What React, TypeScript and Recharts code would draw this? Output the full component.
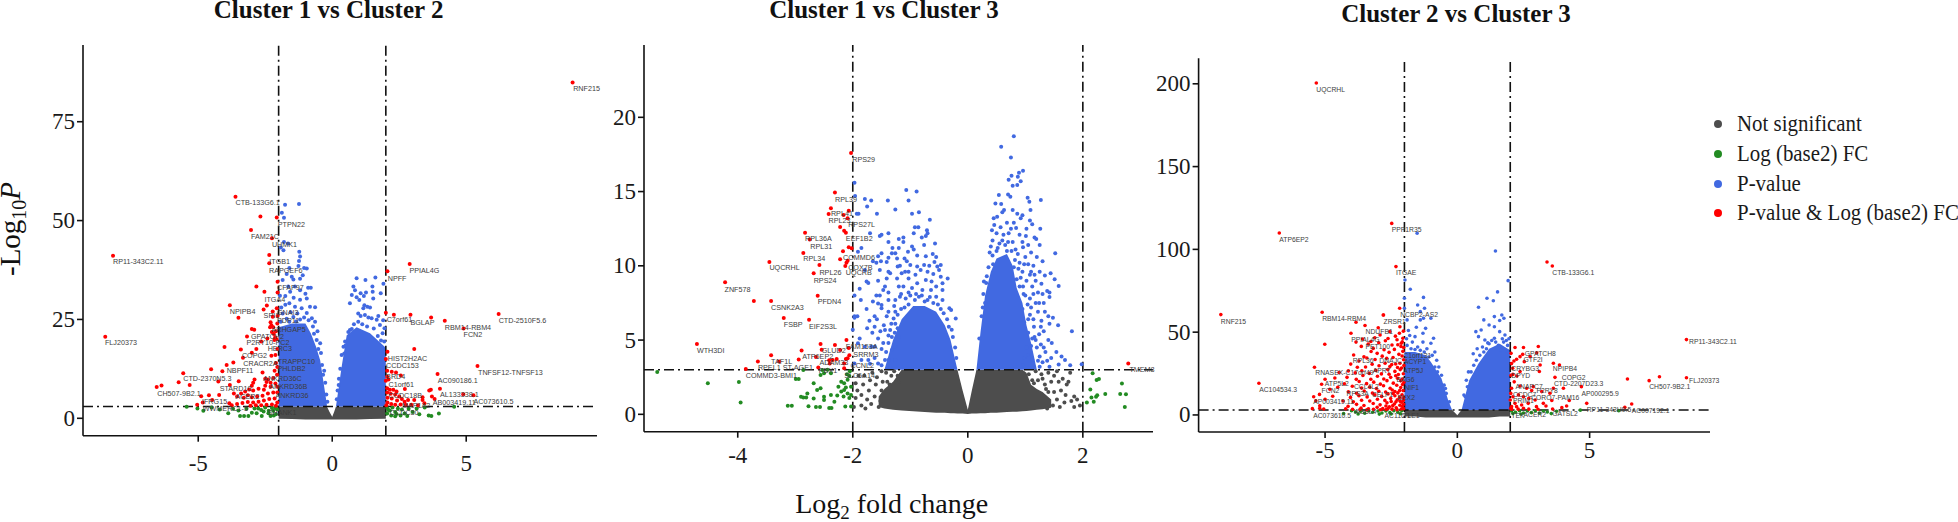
import { ComposedChart, Area, Scatter, XAxis, YAxis, ReferenceLine, Legend } from "recharts"

type Row = [number, number]
type GeneRow = [string, number, number]

// hand. the solid mass of each volcano is kept as an outline (x, top)
// because the thousands of overlapping dots there cant be read one by one
const C1_ENV_X = [-2, -1.5, -1, -0.8, -0.6, -0.45, -0.3, -0.2, -0.1, 0, 0.07, 0.14, 0.35, 0.54, 0.91, 1.41, 1.97, 2]
const C1_ENV_LOW = [-0.1, -0.2, -0.3, -0.3, -0.3, -0.3, -0.3, -0.3, -0.3, -0.3, -0.3, -0.3, -0.3, -0.3, -0.3, -0.2, -0.1, -0.1]
const C1_ENV_GREY = [3, 3, 3, 3, 3, 3, 3, 3, 1.6, 0.4, 1.6, 3, 3, 3, 3, 3, 3, 3]
const C1_ENV_BLUE = [23, 24, 24, 21.5, 18, 14.7, 8, 3.5, null, null, null, 3, 13, 21, 23, 21.5, 18, 17]

const C1_BLUE: Row[] = [[-1.76,54],[-1.24,54.2],[-1.88,52],[-1.8,50.7],[-1.82,42.5],[-1.92,43.2],[-1.8,44.6],[-1.65,44.2],[-1.23,42.1],[-1.2,40.9],[-1.24,39.8],[-1.6,38],[-1.26,38.5],[-0.95,37.9],[-1.05,38],[-1.45,35.1],[-1.1,36.2],[-1.2,35.3],[-1.51,35.8],[-1.85,35],[-1.64,33.3],[-1.39,33.3],[-1.2,32.4],[-1.57,32],[-1.75,30.9],[-1.44,30.5],[-1.2,30],[-0.95,30.3],[-1.6,29.1],[-1.75,28.7],[-1.39,28.2],[-1.14,27.8],[-0.83,28.2],[-0.64,28.1],[-0.95,26.6],[-0.76,25.3],[-0.64,24.4],[-1.3,26.5],[-1.55,26.8],[-1.85,26.5],[-0.9,33],[-0.8,33],[-1,31.5],[-1.7,36.5],[-0.55,22],[-0.45,19],[-0.42,16.5],[-0.3,12],[-0.26,9],[-1.95,31],[-1.9,28],
[-1.7,25.2],[-1.45,25.6],[-1.2,25],[-1.05,25.5],[-0.88,24.8],[-0.72,23.2],[-0.68,21.4],[-0.58,19.8],[-0.52,17.5],[-0.38,13.5],[-0.34,11],[-0.22,6],[-0.18,4.2],[-1.92,24.4],[-1.6,24.4],[-1.35,24.5],
[0.91,35.4],[1.24,35],[1.61,35.6],[1.91,34],[0.79,33.3],[1.5,33.3],[0.85,32.4],[1.06,31.6],[1.26,31.8],[1.51,32],[1.81,31.6],[0.73,31.2],[0.91,30.6],[1.18,30.9],[1.53,30.3],[1.01,29.9],[0.66,29.1],[1.2,28.6],[1.31,28.2],[1.41,28],[1.16,27.8],[0.97,26.5],[1.06,25.9],[1.22,26.1],[1.35,25.5],[1.47,25.3],[1.72,25.9],[1.66,24.9],[0.81,23.8],[0.97,24.4],[0.66,22.3],[1.78,23.6],[1.88,21.5],[0.48,19.4],[0.42,18.1],[1.95,22.8],[1.9,24.8],[0.35,16],[0.25,10],[0.2,7],
[0.73,22.6],[1.12,23.8],[1.3,23.2],[1.55,22.7],[1.7,20.8],[1.82,19.7],[1.94,19.4],[0.45,16.4],[0.3,12.5],[0.24,8.4],[0.17,4.8],[0.6,21.8],[0.5,18.4]]

const C1_RED: Row[] = [[8.97,84.9],[-8.18,41.1],[-8.47,20.6],[-3.61,56],[-2.68,51],[-2.07,50.8],[-3.03,47.6],[-2.25,45.5],[-2.35,41.3],[-2.35,39.2],[2.89,39],[2.06,37.2],[-2.83,33.3],[-2.04,34.5],[-2.53,32],[-2.04,31.8],[-3.82,28.6],[-2.44,28.5],[-2.56,27.5],[-2.22,27],[-2.07,27.8],[-3.5,25.4],[-2.22,25.7],[-2.04,25.9],[2,26.7],[2.3,26.2],[2.92,26.2],[3.69,25.5],[4.2,24.7],[6.21,26.4],[4.9,22.7],[-2.3,24.3],[-2.27,23.5],[-2.2,23],[-2.32,23],[-2.25,21.8],[-2.18,21.3],[-2.1,22],[-2.05,24],[-2.13,20.5],[-2.08,20],[-3,22.6],[-2.91,22.4],[-3.18,20.7],[-2.65,19.4],[-2.42,20.2],[-2.16,19.8],[-4.02,18],[-3.41,17.4],[-2.83,17.5],[-3,16.6],[-3.33,15.3],[-2.27,15.8],[-2.12,16],[-2.05,17.5],[-3.69,14.1],[-3.94,13.5],[-4.52,12.4],[-4.1,11.9],[-3.49,9.4],[-2.6,11.6],[-5.56,11.4],[-5.73,9.1],[-6.37,8.3],[-6.55,7.9],[-5.32,8.4],[-4.25,9.3],[-4.89,5.6],[-4.6,5.8],[-4.48,4.6],[-4.22,5.9],[-3.82,8.4],[-3.67,6.3],[-5.04,3.4],[-4.83,4],[-3.84,3.8],[-2.1,14],[-2.05,13],[-2.15,12],[-2.06,11],[-2.2,10.2],[-2.4,9.8],[-2.5,10],[-2.9,9.8],[-2.95,9],[-3,8.2],[-2.45,9.2],[-2.3,9],[-2.12,8.8],[-2.05,8],[-2.3,8],[-2.5,8.2],[-2.55,7.2],[-2.75,7.5],[-2.95,7],[-3.1,7.3],[-3.25,6.8],[-3.4,6.3],[-3.55,5.5],[-3.3,5.2],[-3.15,5.8],[-3,5.3],[-2.8,5.5],[-2.6,5.7],[-2.4,6.3],[-2.2,6.5],[-2.05,6.5],[-2.15,5],[-2.35,4.9],[-2.55,4.5],[-2.75,4.2],[-2.95,4],[-3.15,4.1],[-3.35,3.9],[-3.55,3.6],[-3.75,3.3],[-2.05,4],[-2.25,3.5],[-2.45,3.4],[-2.65,3.3],[-2.85,3.3],[-3.05,3.2],[-2.1,3.2],
[3.06,17.5],[2.06,16.8],[2,15],[5.42,13.2],[3.93,11.2],[2.05,12],[2.22,11.8],[2.38,11.6],[2.56,10.8],[2.05,10.5],[2.1,9.8],[2,9.5],[4.02,7.5],[3.62,7],[3.68,7.2],[2.71,7.4],[3.37,5.3],[3.37,4.6],[3.72,5.5],[3.82,4.9],[4.89,6.1],[5.27,5.8],[3.44,3.8],[3.06,4.6],[2.83,4.6],[2.05,7.6],[2.15,7.2],[2.28,7.2],[2.4,6.8],[2.05,6.5],[2.18,6.2],[2.35,6],[2.5,5.5],[2.06,5.2],[2.22,5],[2.42,4.5],[2.6,4.9],[2.7,4.2],[2.06,4],[2.2,3.6],[2.35,3.4],[2.55,3.5],[2.75,3.4],[2.95,3.4],[2.02,3.3],[3.2,3.3]]

const C1_GREEN: Row[] = [[-5.43,2.95],[-5.03,2.5],[-4.81,1.9],[-4.5,2.7],[-4.2,2.2],[-3.88,1.3],[-3.7,2.4],[-3.44,0.6],[-3.29,0.6],[-3.13,0.6],[-3.5,2],[-3.2,2.4],[-3,1.4],[-2.82,1.3],[-2.63,0.6],[-2.56,1.7],[-2.38,1.3],[-2.2,1.9],[-2.76,2.5],[-2.5,2.7],[-2.13,2.7],[-2.37,1.9],[-2.1,1],[-2.3,0.6],[-2.9,2.5],[-2.05,2.2],[-2.18,0.7],[-2.1,2.5],[-2.65,2.1],[-2.25,2.6],
[2.05,2.6],[2.15,2],[2.25,2.7],[2.35,1.6],[2.45,2.5],[2.05,1.2],[2.2,0.7],[2.6,2.2],[2.7,1.2],[2.85,2.4],[2.8,0.6],[2.55,0.7],[2.35,0.5],[3.15,2.5],[3.25,1],[3.45,2.7],[3.6,0.7],[3.7,0.6],[3.98,1.2],[4.55,2.9],[2.1,2.1],[2.4,1.1],[3,1.6]]

const C1_LABELS: GeneRow[] = [["RNF215",8.99,83.2],["CTB-133G6.1",-3.61,54.3],["PTPN22",-2.03,48.9],["FAM21C",-3.03,45.8],["UHMK1",-2.25,43.7],["RP11-343C2.11",-8.18,39.4],["ITGB1",-2.35,39.4],["RAPGEF6",-2.36,37.3],["PPIAL4G",2.88,37.3],["NPFF",2.07,35.3],["CFAP97",-2.06,32.9],["ITGA4",-2.53,30],["NPIPB4",-3.82,26.9],["SPI1",-2.56,25.8],["GNAI3",-2.06,26.5],["C7orf61",2.03,24.9],["BGLAP",2.92,24.2],["CTD-2510F5.6",6.21,24.6],["PDP11",-2.06,24.6],["RBM14-RBM4",4.2,22.9],["FCN2",4.9,21.1],["ARHGAP5",-2.27,22.4],["GPATCH2",-3.03,20.6],["FLJ20373",-8.48,18.9],["P2RY10-PC2",-3.2,19],["HERC3",-2.41,17.4],["COPG2",-3.37,15.8],["HIST2H2AC",2.07,15],["TRAPPC10",-2.03,14.3],["CRACR2A",-3.32,13.7],["CCDC153",2.01,13.2],["TNFSF12-TNFSF13",5.44,11.5],["NBPF11",-3.94,11.9],["PHLDB2",-2.04,12.5],["BRD4",2.01,10.5],["CTD-2370N5.3",-5.56,9.8],["ANKRD36C",-2.57,9.9],["AC090186.1",3.94,9.3],["C1orf61",2.1,8.3],["ANKRD36B",-2.35,7.9],["STARD10",-4.2,7.5],["CH507-9B2.1",-6.53,6],["AL133338.1",4.02,5.8],["ANKRD36",-2.12,5.6],["CCDC18B",2.1,5.6],["ACER2",-3.61,5.3],["IFRG15",-4.86,4],["AC073610.5",5.27,4],["AB003419.11",3.75,3.8],["WWMERC1-5",-4.83,2.3],["SHANK1",-2.41,1.4],["CCDC30",2.15,1.4],["MAP1A2",2.6,3.1]]

const C2_ENV_X = [-1.55, -1.45, -1.3, -1.15, -0.95, -0.75, -0.55, -0.4, -0.3, -0.24, -0.18, -0.09, 0, 0.07, 0.15, 0.22, 0.3, 0.4, 0.5, 0.68, 0.78, 0.85, 0.95, 1.02, 1.1, 1.2, 1.3, 1.45]
const C2_ENV_LOW = [0.5, 0.4, 0.3, 0.25, 0.2, 0.15, 0.1, 0.1, 0.08, 0.07, 0.05, 0.05, 0.02, 0.05, 0.05, 0.07, 0.08, 0.1, 0.1, 0.15, 0.17, 0.18, 0.2, 0.22, 0.25, 0.3, 0.35, 0.45]
const C2_ENV_GREY = [1.2, 1.7, 2.2, 3, 3, 3, 3, 3, 3, 3, 3, 1.6, 0.3, 1.6, 3, 3, 3, 3, 3, 3, 3, 3, 3, 2.8, 2, 1.7, 1.5, 1]
const C2_ENV_BLUE = [null, 3, 5, 6.4, 7.3, 7.3, 6.9, 6, 5, 4, 3, null, null, null, 3, 5.5, 8, 9.6, 10.5, 10.8, 10, 8.5, 7.5, 6, 4.8, 3, null, null]

const C2_BLUE: Row[] = [[-1.97,15.6],[-1.96,14.7],[-1.79,14.5],[-1.68,14.4],[-1.75,14],[-1.39,14.4],[-1.07,15.1],[-0.89,15],[-1.03,14.4],[-1.93,13.5],[-1.9,13.5],[-1.58,13.5],[-1.26,13.8],[-0.97,13.5],[-0.85,13.6],[-0.66,13.1],[-0.92,12.6],[-0.86,12.6],[-0.71,12.4],[-0.7,12.2],[-0.94,12.2],[-0.73,12],[-0.8,11.9],[-1.53,12],[-1.5,12.1],[-1.38,12.2],[-1.2,11.8],[-1.12,11.9],[-1.12,11.6],[-1.7,12.2],[-0.57,11.5],[-0.76,11.4],[-1.38,11.6],[-0.97,11.3],[-0.94,11.1],[-1.31,11.2],[-1.2,11.2],[-1.85,11.2],[-1.91,10.95],[-1.5,10.85],[-1.32,10.85],[-1.26,10.85],[-1.04,10.95],[-0.61,10.8],[-0.88,10.7],[-0.73,10.65],[-0.55,10.6],[-1.38,10.55],[-1.56,10.65],[-1.65,10.3],[-1.59,10.2],[-1.51,10.3],[-1.41,10.25],[-1.23,10.5],[-1.18,10],[-1.1,10.5],[-1.06,10.3],[-1,10.05],[-0.88,9.95],[-0.76,10.05],[-0.67,10],[-0.58,10.25],[-0.47,10.05],[-0.53,9.95],[-1.53,9.72],[-1.38,9.6],[-1.35,9.5],[-1.22,9.95],[-1.15,9.5],[-1.09,9.6],[-1.03,9.6],[-0.91,9.4],[-0.82,9.72],[-0.7,9.6],[-0.6,9.45],[-0.5,9.72],[-1.79,9.72],[-1.88,8.45],[-1.76,8.95],[-1.73,8.85],[-1.56,9],[-1.41,9.15],[-1.23,9.15],[-1.03,9.15],[-0.88,8.82],[-0.73,9.05],[-0.63,8.95],[-0.47,9.27],[-0.35,9.15],[-0.44,8.82],[-0.55,8.6],[-1.97,8],[-1.59,8],[-1.53,8],[-1.47,8.37],[-1.44,8.6],[-1.38,8.2],[-1.2,8.6],[-1.12,8.6],[-0.97,8.5],[-0.79,8.37],[-0.64,8.37],[-0.44,8.37],[-1.86,7.7],[-1.65,7.6],[-1.56,7.47],[-1.5,7.36],[-1.38,7.7],[-1.26,7.7],[-1.18,7.92],[-1,8],[-0.85,7.92],[-0.7,7.7],[-0.55,7.92],[-0.44,7.7],[-0.32,7.15],[-0.29,7.03],[-0.21,6.45],[-1.76,7.1],[-1.97,6.6],[-1.92,6.6],[-1.62,6.6],[-1.5,7.15],[-1.38,6.9],[-1.41,6.6],[-1.26,6.9],[-1.71,6.3],[-1.97,6.5],[-1.29,6.45],[-1.62,5.9],[-1.44,5.68],[-1.35,5.68],[-1.26,6.1],[-1.62,4.55],[-1.47,4.8],[-1.38,4.8],[-1.26,4.55],[-1.2,5.23],[-1.44,3.65],[-1.38,3.65],[-1.32,4.33],[-1.26,3.65],[-1.91,4.78],[-1.88,5.1],[-1.68,4.55],[-1.79,4.55],[-2,5.7],[-1.97,3.43],[-1.85,3.65],[-1.73,3.65],[-1.56,3.43],
[-1.16,8.1],[-1.08,7.8],[-1.03,8.2],[-0.92,7.7],[-0.9,8.1],[-0.8,8],[-0.75,7.6],[-0.66,7.9],[-0.6,7.5],[-0.52,7.4],[-0.47,7.1],[-0.42,6.8],[-0.36,6.4],[-0.33,5.9],[-0.28,5.7],[-0.26,5.2],[-0.22,4.5],[-0.2,3.8],[-1.28,7.3],[-1.22,6.7],[-1.16,7.1],[-1.1,7.2],[-1.03,7.4],[-1.33,6.1],[-1.27,5.5],[-1.22,5.8],[-1.32,5.2],[-1.38,5.3],[-1.42,4.2],[-1.5,4.4],[-1.56,5.1],[-1.52,5.6],[-1.46,6],[-1.58,6.4],[-1.66,5.5],[-1.75,5.8],[-1.7,3.4],[-1.62,3.8],[-1.5,3.3],[-1.35,3.2],
[0.8,18.73],[0.58,18.02],[0.75,17.3],[0.96,16.4],[0.89,16.27],[0.87,16],[0.76,16.07],[0.71,15.8],[0.92,15.7],[0.86,15.44],[0.78,15.4],[0.7,14.8],[0.54,14.77],[0.74,14.65],[1.04,14.58],[1.27,14.43],[1.07,14.32],[0.48,14.2],[0.58,14.16],[0.63,13.76],[1.09,13.76],[0.78,13.76],[0.86,13.5],[0.95,13.4],[0.45,13.2],[0.51,13.3],[0.6,13.6],[0.92,13.2],[1.08,13.05],[0.68,12.9],[0.8,12.9],[1.12,12.8],[1.26,12.5],[0.46,12.75],[0.42,12.4],[0.57,12.6],[0.75,12.5],[0.84,12.55],[1.02,12.5],[0.5,12.2],[0.62,12.1],[0.71,12.2],[0.9,12.1],[1.01,12],[1.16,11.9],[1.25,11.4],[0.43,11.7],[0.55,11.5],[0.65,11.4],[0.78,11.6],[0.95,11.6],[1.05,11.4],[1.19,11.8],[0.4,11.3],[0.5,11],[0.68,11],[0.83,11.1],[0.96,11.25],[1.1,10.9],[1.52,10.84],[0.38,10.9],[0.43,10.7],[0.87,10.8],[1,10.6],[1.2,10.6],[1.3,10.3],[0.9,10.2],[1.05,10.1],[1.14,10],[0.8,9.9],[0.95,9.6],[1.25,9.6],[1.44,9.5],[1.34,9.35],[1.08,9.4],[1.51,9.1],[1.58,8.64],[0.85,9.1],[1.02,9],[1.18,9],[1.28,8.8],[0.28,8.95],[0.32,8.85],[1.38,8.3],[1.42,8.2],[1.3,8.1],[1.12,8.6],[0.9,8.6],[0.97,8.1],[1.08,7.8],[1.24,7.5],[1.42,7.9],[1.32,7.5],[0.3,7.5],[0.26,7.2],[0.95,7.1],[1.1,7.2],[1.22,6.9],[1.34,6.9],[1.28,6.3],[1.4,6.6],[1.48,6.5],[1.57,6],[1.42,6.1],[1.81,5.6],[0.98,6.2],[1.05,6.4],[1.15,5.9],[1.27,5.9],[1.05,5.5],[1.16,5.2],[1.32,5.6],[1.4,5],[1.27,4.7],[1.46,4.8],[1.54,4.2],[1.35,4.2],[1.2,4.5],[1.1,4.6],[1.02,4.5],[0.98,3.8],[1.12,3.7],[1.22,3.6],[1.3,3.5],[1.45,3.8],[1.63,3.9],[1.69,3.66],[1.78,3.3],[1.98,3.37],[1.58,3.35],[1.42,3.2],[0.96,3.3],[1.05,4],[1.25,3.2],
[0.44,10.1],[0.52,11.2],[0.6,11.7],[0.7,11.6],[0.76,11],[0.82,10.4],[0.88,9.8],[0.92,9.2],[0.96,8.6],[1,8],[1.04,7.4],[1.08,6.7],[1.14,6.4],[1.18,7.5],[1.22,8.2],[1.14,8.1],[0.36,9.9],[0.33,9.3],[0.27,8.1],[0.24,6.6],[0.2,5.1],[0.98,10.1],[1.1,9.6],[1.16,9.4],[1.18,5],[1.24,5.4],[1.12,5.1],[1.25,3.9],[1.32,4.5],[1.38,3.6]]

const C2_RED: Row[] = [[-2.03,17.6],[-2.31,14.93],[-2.38,13.87],[-2.07,13.71],[-2.42,13.49],[-2.16,13.42],[-2.09,13.2],[-2.22,12.62],[-2.15,12.37],[-2.12,12.23],[-2.83,12.23],[-2.75,11.78],[-2.07,11.25],[-2.02,11.18],[-2.17,10.98],[-2.86,10.86],[-3.45,10.26],[-2.22,10.44],[-2.09,10.35],[-2.11,10.21],[-2.58,10.06],[-2.13,9.99],[-2.68,9.5],[-4.22,8.89],[-2.61,7.99],[-3.72,7.63],[-3.42,7.63],[-3.2,6.49],[-2.76,6.37],[-2.11,5],[-4.71,4.74],[-2.56,4.74],[-2.31,4.67],[-2.07,4.47],[-2.54,4.35],[-2.22,4.33],[-2.89,4.29],[-3.42,3.97],[-2.06,3.97],[-2.09,3.77],[-2.12,3.73],[-2.28,3.73],[-2.35,3.66],[-2.41,3.64],[-2.64,3.86],[-2.94,3.7],[-3.65,3.55],[-3.28,3.55],[-2.4,3.43],[-2.15,3.43],[-2.6,3.16],[-3.86,3.05],[-2.15,3.1],[2.79,3.43]]

const C2_GREY: Row[] = [[-1.98,0.5],[-1.95,1.1],[-1.92,1.6],[-1.95,2.1],[-1.9,2.6],[-1.85,0.6],[-1.85,1.3],[-1.82,2],[-1.8,2.6],[-1.78,0.4],[-1.75,1],[-1.72,1.6],[-1.7,2.3],[-1.66,2.8],[-1.68,0.7],[-1.62,1.2],[-1.6,2],[-1.58,2.5],[-1.55,0.5],[-1.52,0.9],[-1.5,1.6],[-1.5,2.9],[-1.42,2.8],[-1.4,2.2],[-1.48,2.2],[-1.33,2.6],[-1.28,2.9],[-1.22,2.6],[-1.36,2],[-1.2,2.2],
[1.4,2.8],[1.45,2.2],[1.5,2.6],[1.55,2.9],[1.5,1.5],[1.55,1],[1.58,2.2],[1.62,1.6],[1.65,2.4],[1.68,0.8],[1.7,1.3],[1.75,2.2],[1.78,2.8],[1.8,0.9],[1.85,1.2],[1.85,0.5],[1.9,1],[1.95,0.6],[1.38,0.4],[1.6,0.5],[1.72,2],[1.48,0.6],[1.06,2.7],[1.12,2.3],[1.18,2.9],[1.22,2.3],[1.28,2.7],[1.34,2],[1.3,2.4],[1.15,2.1],[1.4,1.5],[1.36,1.7]]

const C2_GREEN: Row[] = [[-5.4,2.85],[-4.52,2.09],[-3.98,2.18],[-3.95,0.79],[-3.13,0.58],[-3.06,0.58],[-2.86,2.98],[-2.99,2.38],[-2.94,2.38],[-2.9,1.19],[-2.86,1.14],[-2.81,1.14],[-2.79,1.41],[-2.77,0.54],[-2.64,0.49],[-2.57,0.49],[-2.41,0.43],[-2.37,0.43],[-2.13,0.52],[-2.03,0.52],[-2.68,2.09],[-2.62,1.64],[-2.56,1.75],[-2.68,1.07],[-2.5,1.19],[-2.5,0.97],[-2.38,1.3],[-2.27,1.26],[-2.32,0.85],[-2.25,1.86],[-2.2,2.2],[-2.15,2.09],[-2.09,2.33],[-2.06,2.58],[-2.03,1.86],[-2.09,1.41],[-2.15,1.64],[-2.2,1.53],[-2.03,1.3],[-2.56,2.65],[-2.5,2.76],[-2.38,2.76],[-2.53,2.98],[-2.44,3],[-2.12,1.8],[-2.06,1.1],[-2.16,1.2],[-2.05,2.9],[-2.1,2.7],
[2.17,2.76],[2.24,2.31],[2.28,2.38],[2.13,1.68],[2.07,0.79],[2.15,1.14],[2.19,0.85],[2.23,1.19],[2.25,1.28],[2.39,1.37],[2.68,2.07],[2.65,1.37],[2.75,1.35],[2.73,0.49]]

const C2_LABELS: GeneRow[] = [["RPS29",-2.01,17.15],["RPL39",-2.31,14.43],["RPL41",-2.38,13.47],["RPL23",-2.42,13.04],["RPS27L",-2.08,12.77],["RPL36A",-2.83,11.78],["EEF1B2",-2.12,11.78],["RPL31",-2.74,11.25],["COMMD6",-2.17,10.55],["RPL34",-2.86,10.42],["UQCRHL",-3.45,9.83],["COX7B",-2.08,9.88],["RPL26",-2.58,9.52],["UQCRB",-2.12,9.5],["RPS24",-2.68,8.98],["ZNF578",-4.23,8.37],["PFDN4",-2.61,7.54],["CSNK2A3",-3.42,7.14],["FSBP",-3.2,5.99],["EIF2S3L",-2.76,5.88],["FAM153A",-2.12,4.56],["WTH3DI",-4.71,4.24],["GLUD2",-2.54,4.24],["SRRM3",-1.99,4.02],["ATP6EP2",-2.88,3.86],["TAF1L",-3.42,3.52],["ADAM33",-2.58,3.43],["CCNL2",-2.04,3.25],["RPEL1 ST-AGE1",-3.65,3.1],["PBX1",-2.59,2.9],["COMMD3-BMI1",-3.86,2.6],["SLC6A14",-2.15,2.6],["TMEM8",2.81,2.98]]

const C3_ENV_X = [-2, -1.6, -1.2, -1, -0.6, -0.35, -0.2, -0.1, 0, 0.08, 0.16, 0.45, 0.8, 1.2, 1.6, 2]
const C3_ENV_LOW = [-1, -1, -1.5, -1.5, -1.5, -1.5, -1.5, -1.5, -1.5, -1.5, -1.5, -1.5, -1.5, -1.5, -1, -1]
const C3_ENV_GREY = [3, 3, 3, 3, 3, 3, 3, 1.5, -0.2, 1.5, 3, 3, 3, 3, 3, 3]
const C3_ENV_BLUE = [38, 38, 36, 32, 22, 9, 3, null, null, null, 3, 21, 31, 40, 43, 39]

const C3_BLUE: Row[] = [[-1.52,109.7],[1.44,99],[1.92,81.1],[-1.98,81.5],[-1.78,75.9],[-1.28,71],[-2,70.5],[1.52,74.3],[1.12,70.5],[1.36,69],[0.8,65],[-1.5,66.4],[-1.24,64.4],[-1.4,62.4],[-2,64.4],[1.68,60.4],[1.76,58.4],[1.4,59.4],[1.6,57],[1,57.4],[1.2,54.3],[-1.28,58.4],[-1,58.4],[-1.9,57.4],[-1.4,57.4],[0.7,50.3],[0.9,51.3],[1.4,53.3],[1.6,50.3],[-1.2,52.3],[-1.3,49.3],[-0.9,46.3],[-1,43.3],[0.8,47.3],[1.04,45.3],[1.4,46.3],[1.8,48.3],[-1.6,47.3],[-1.85,51],[-1.55,53],[-1.7,44],[-1.3,44],[-1.15,40],[-1.5,41],[-0.85,38],[-0.78,33],[-0.7,29],[-0.95,36],[-1.9,42],[1.2,43],[1.55,42],[1.75,44],[1.9,42],[0.95,41],[0.75,40],[1.1,40],[0.6,37],[1.65,39],[1.9,38],[0.42,26],[0.34,21],[0.25,12],[-0.5,18],[-0.42,13],
[-1.8,48],[-1.92,46],[-1.75,40],[-1.6,39.5],[-1.4,39],[-1.25,38],[-1.08,35],[-0.85,29],[-0.75,26],[-0.6,24],[-0.45,16],[-0.3,8],[0.3,11],[0.38,17],[0.52,26],[0.62,30],[0.72,33],[0.85,36],[1,38],[1.15,43.5],[1.3,45],[1.45,44],[1.7,46],[1.85,45],[1.95,46]]

const C3_RED: Row[] = [[-5.33,200.5],[-6.73,109.9],[-2.48,115.7],[-2.32,89.6],[-8.94,60.6],[-5.11,62],[8.66,45.5],[3.39,92.4],[3.59,90],[-2.18,64.4],[-2.79,60.4],[-7.5,19.1],[-5.01,42.7],[8.66,22.5],[7.64,23.1],[7.25,20.7],[6.43,21.7],[4.89,7],[6.59,6.6],[6.33,4.6],
[-3.83,56],[-2.8,60.4],[-4.02,49.3],[-3.49,54],[-2.99,52.7],[-2.55,50.3],[-2.19,49.3],[-2.17,53.3],[-2.34,47.6],[-2.62,46.2],[-2.92,48.3],[-3.12,46.6],[-3.27,44.4],[-3.58,45.8],[-3.83,44],[-3.63,41.4],[-3.37,42.8],[-3.18,40.2],[-2.97,43.6],[-2.72,44.8],[-2.47,42.2],[-2.28,45.4],[-2.08,44.2],[-2.04,50.6],[-2.13,41.3],[-2.38,39.6],[-2.58,37.8],[-2.77,39.4],[-3.03,37.2],[-3.26,38.3],[-3.92,36.2],[-3.53,35.1],[-2.06,38.4],[-2.21,36.6],[-2.43,34.7],[-2.67,34.2],[-2.84,35.5],[-3.11,33.5],[-3.42,34.4],[-3.72,32.6],[-4.03,30.7],[-2.03,33.3],[-2.17,31.2],[-2.48,30.4],[-2.73,31.2],[-2.96,29.7],[-3.22,30.6],[-3.47,29],[-3.78,28.8],[-5.4,28.8],[-4.47,25.6],[-4.12,26.6],[-3.86,25.4],[-3.61,26.7],[-3.33,25.1],[-3.08,26.9],[-2.87,24.8],[-2.63,27.4],[-2.36,26.3],[-2.11,28.3],[-2.23,24.4],[-2.52,22.7],[-2.78,21.7],[-3.02,23.4],[-3.27,21.6],[-3.57,23.8],[-3.82,21.5],[-4.17,22.7],[-4.63,22.3],[-5,21.6],[-2.04,24.9],[-2.14,20.6],[-2.42,19.2],[-2.66,20.7],[-2.91,18.6],[-3.16,19.8],[-3.43,18.9],[-3.71,20.2],[-4.27,18.8],[-5.13,18.5],[-4.52,16.7],[-4.82,15.5],[-3.97,17.3],[-3.62,16.2],[-3.31,16.8],[-3.06,15.9],[-2.79,17.6],[-2.54,16.1],[-2.29,17.9],[-2.07,18.4],[-2.18,14.7],[-2.46,15.1],[-2.71,13.8],[-2.97,14.3],[-3.21,13.2],[-3.52,14.5],[-3.81,13.1],[-4.12,14],[-2.09,12.2],[-2.36,11.6],[-2.62,12.7],[-2.86,11.2],[-3.12,12.2],[-3.41,10.9],[-3.72,11.6],[-4.04,10.6],[-4.71,11.3],[-5.21,12.4],[-5,9.5],[-5.43,11],[-5.35,8.5],[-2.04,10.3],[-2.27,9.2],[-2.52,9.9],[-2.74,8.8],[-3.02,9.5],[-3.31,8.4],[-3.62,8.9],[-3.93,7.9],[-4.32,8.4],[-2.11,7.7],[-2.38,6.6],[-2.66,7.3],[-2.92,6.1],[-3.18,6.9],[-3.53,5.7],[-3.81,6.4],[-4.13,5.2],[-5.2,5.5],[-5.48,3.8],[-5.2,4],[-5.05,3.6],[-2.08,5.2],[-2.31,4.3],[-2.57,4.9],[-2.82,3.8],[-3.03,4.6],[-3.36,3.7],[-3.64,4.1],[-3.96,3.4],[-4.22,3.7],[-2.12,3.6],[-2.28,3.2],[-2.47,3.5],[-2.69,3.3],[-2.91,3.1],[-3.17,3.4],[-3.42,3.1],[-3.68,3.3],
[-2.06,46.3],[-2.12,43.3],[-2.25,42.4],[-2.03,40.7],[-2.09,35.6],[-2.02,29.8],[-2.16,27.4],[-2.26,28.7],[-2.33,30.8],[-2.55,29.2],[-2.08,21.7],[-2.02,19.7],[-2.26,22.1],[-2.33,23.7],[-2.58,24.6],[-2.14,16.6],[-2.36,14.1],[-2.05,14.7],[-2.25,13.3],[-2.43,12.9],[-2.04,8.7],[-2.18,10.6],[-2.16,8.2],[-2.32,7.9],[-2.5,8.1],[-2.03,6.4],[-2.17,5.9],[-2.44,5.6],[-2.7,5.4],[-2.03,3.8],[-2.62,3.9],
[2.18,40.7],[2.5,40.7],[3.06,41.3],[2.03,37.2],[2.47,36.6],[2.37,35.2],[2.24,33.6],[2.14,32.6],[2.75,35.2],[2.53,32.2],[3,37.6],[3.63,31.2],[3.86,30.2],[3.13,30.2],[2.09,28.2],[2.37,26.2],[3.1,26.2],[3.69,22.7],[4.69,17.1],[4.23,8.7],[4.01,16.1],[3.63,16.1],[2.87,17.1],[2.62,16.1],[2.37,17.5],[2.05,16.1],[2.02,13],[2.1,11],[2.31,12.1],[2.81,14.7],[3.19,14.1],[3.5,13.1],[3.57,8.7],[4.13,5.4],[3.25,7],[3.35,5.4],[2.94,9],[2.68,7],[2.43,6],[2.18,7],[2.05,5],[2,9],[2.24,5],[2.5,4],[2.99,5],[2.02,4],[2.05,31],[2.03,24],[2.1,24.5],[2.25,23.5],[2.15,20],[2.5,11],[2.7,10],[2.05,3.5],[2.3,3.5],[2.7,3.5],[3.05,3.4],[3.6,3.6],[3.95,4.4]]

const C3_GREEN: Row[] = [[-4.3,0.8],[-4,2.5],[-3.85,1.8],[-3.65,2.2],[-3.5,1],[-3.35,2.5],[-3.2,1.6],[-3,2.4],[-2.85,1.2],[-2.7,2.4],[-2.55,1.4],[-2.4,2.6],[-2.25,1.6],[-2.1,2.5],[-3.75,0.6],[-2.95,0.5],[-2.5,0.6],[-2.15,0.7],[2.05,2.4],[2.2,1.6],[2.35,2.5],[2.5,1.2],[2.65,2.4],[2.8,1.4],[2.95,2.5],[3.1,1.2],[3.25,2.4],[3.4,1.8],[3.55,0.8],[3.75,2.2],[4.65,2.9],[6.1,2.6],[2.1,0.8],[2.4,0.6]]

const C3_LABELS: GeneRow[] = [["UQCRHL",-5.33,196.3],["PPP1R35",-2.48,111.3],["ATP6EP2",-6.73,105.5],["CTB-133G6.1",3.59,85.5],["ITGAE",-2.32,85.5],["NCBP2-AS2",-2.16,60.4],["RBM14-RBM4",-5.11,57.8],["RNF215",-8.94,56.2],["ZRSR1",-2.79,56.2],["NDUFB1",-3.47,50.1],["PPIAL4G",-4.01,45.3],["RP11-343C2.11",8.76,43.7],["PET100",-3.47,40.7],["GPATCH8",2.55,36.8],["GTF2I",2.5,33],["RPL36",-3.95,32.6],["DNAJC",-2.95,32.2],["ACYP1",-2.02,31.8],["C1orf131",-2.04,35.2],["CRYBG3",2.04,27.8],["NPIPB4",3.61,27.4],["ATP5J",-2.04,26.6],["RNASEK-C17orf49",-5.37,25],["DPYD",2.04,23.1],["COPG2",3.95,22.1],["ATP5L2",-5.01,18.3],["CTD-2207D23.3",3.65,18.3],["FLJ20373",8.76,20.1],["ANAPC7",2.2,16.7],["CCL4L2",-3.91,16.7],["CH507-9B2.1",7.25,16.7],["AC104534.3",-7.49,15.1],["FCN2",-5.13,14.1],["P2RY8",2.99,14.1],["AP000295.9",4.69,12.5],["RPS3A",-4.19,12.3],["CELF1",-3.23,11.7],["CCDC7",2.1,12.1],["CORO7-PAM16",2.79,10.1],["AP003419.11",-5.45,7.4],["PRIM1",2.1,8],["BEX2",-2.26,10.1],["RP11-343H9.5",4.89,2.6],["GATSL2",3.59,0.6],["AC007192.1",6.59,2.4],["AC073610.5",-5.45,-1],["AGBL4",-3.89,1.4],["AC116.1",-2.75,-1],["TLE1",-2.04,-1],["TEK",2.04,-1],["ACER2",2.5,-0.4],["APRT",-3.2,26.5],["BAG6",-2.3,21],["NIF1",-2,16]]

const LEGEND_NAMES = ["Not significant", "Log (base2) FC", "P-value", "P-value & Log (base2) FC"]
const COLORS = { grey: "#4d4d4d", green: "#228b22", blue: "#4169e1", red: "#ff0000" }
const LEGEND_COLORS = [COLORS.grey, COLORS.green, COLORS.blue, COLORS.red]

const toPoints = (rows: Row[]) => rows.map(([x, y]) => ({ x, y }))
const toLabels = (rows: GeneRow[]) => rows.map(([gene, x, y]) => ({ gene, x, y }))
const buildEnvelope = (xs: number[], low: number[], grey: number[], blue: (number | null)[]) =>
  xs.map((x, i) => ({
    x,
    grey: [low[i], grey[i]],
    blue: blue[i] === null ? null : [3, blue[i]],
  }))

const serif = "'Liberation Serif', 'Times New Roman', serif"
const WIDTH = 1958
const HEIGHT = 522

const dot = (fill: string, r: number) => (p: any) => <circle cx={p.cx} cy={p.cy} r={r} fill={fill} />

const geneText = (size: number) => (p: any) => (
  <text x={p.cx} y={p.cy} fontFamily="'Liberation Sans', Arial, sans-serif" fontSize={size} fill="#3d3d3d" dominantBaseline="middle">
    {p.payload.gene}
  </text>
)

// axis tick text set by hand, the tick prop did not take the serif font
const xTick = (offset: number) => (p: any) => (
  <text x={p.x} y={p.y + offset} textAnchor="middle" fontFamily={serif} fontSize={23} fill="#1a1a1a">
    {p.payload.value}
  </text>
)
const yTick = (p: any) => (
  <text x={p.x} y={p.y + 7.5} textAnchor="end" fontFamily={serif} fontSize={23} fill="#1a1a1a">
    {p.payload.value}
  </text>
)

function LegendBox() {
  return (
    <div style={{ fontFamily: serif, fontSize: 23.5, color: "#1a1a1a", lineHeight: "29.8px", whiteSpace: "nowrap" }}>
      {LEGEND_NAMES.map((name, i) => (
        <div key={name} style={{ position: "relative", paddingLeft: 24, height: 29.8 }}>
          <span style={{ position: "absolute", left: 1, top: 11, width: 8, height: 8, borderRadius: 4, background: LEGEND_COLORS[i] }} />
          <span style={{ display: "inline-block", transform: "scaleX(0.89)", transformOrigin: "left center" }}>{name}</span>
        </div>
      ))}
    </div>
  )
}

function Panel({ envelope, grey, green, blue, red, labels, left, right, top, bottom, xDomain, yDomain, xTicks, yTicks, r, labelSize, xTickOffset, children }: any) {
  const axisW = 40
  const axisH = 30
  return (
    <div style={{ position: "absolute", left: 0, top: 0 }}>
      <ComposedChart
        width={WIDTH}
        height={HEIGHT}
        data={envelope}
        margin={{ left: left - axisW, right: WIDTH - right, top, bottom: HEIGHT - bottom - axisH }}
      >
        <XAxis
          dataKey="x"
          type="number"
          scale="linear"
          domain={xDomain}
          ticks={xTicks}
          height={axisH}
          stroke="#111"
          strokeWidth={1.6}
          tickSize={6}
          tickMargin={0}
          interval={0}
          tick={xTick(xTickOffset)}
        />
        <YAxis
          type="number"
          domain={yDomain}
          ticks={yTicks}
          width={axisW}
          stroke="#111"
          strokeWidth={1.6}
          tickSize={6}
          tickMargin={2}
          interval={0}
          tick={yTick}
        />
        <Area dataKey="grey" stroke="none" fill={COLORS.grey} fillOpacity={1} dot={false} activeDot={false} isAnimationActive={false} />
        {/* a Scatter with an empty list falls back to the chart data, so only add it when there are wing dots */}
        {grey ? <Scatter data={toPoints(grey)} dataKey="y" shape={dot(COLORS.grey, r)} isAnimationActive={false} /> : null}
        <Area dataKey="blue" stroke="none" fill={COLORS.blue} fillOpacity={1} dot={false} activeDot={false} isAnimationActive={false} />
        <Scatter data={toPoints(blue)} dataKey="y" shape={dot(COLORS.blue, r)} isAnimationActive={false} />
        <Scatter data={toPoints(green)} dataKey="y" shape={dot(COLORS.green, r)} isAnimationActive={false} />
        <Scatter data={toPoints(red)} dataKey="y" shape={dot(COLORS.red, r)} isAnimationActive={false} />
        <Scatter data={toLabels(labels)} dataKey="y" shape={geneText(labelSize)} isAnimationActive={false} />
        <ReferenceLine x={-2} stroke="#111" strokeWidth={1.6} strokeDasharray="10 4 2 4" />
        <ReferenceLine x={2} stroke="#111" strokeWidth={1.6} strokeDasharray="10 4 2 4" />
        <ReferenceLine y={3} stroke="#111" strokeWidth={1.6} strokeDasharray="10 4 2 4" />
        {children}
      </ComposedChart>
    </div>
  )
}

export default function App() {
  const titleProps = { fontFamily: serif, fontSize: 25, fontWeight: 700, textAnchor: "middle" as const, fill: "#111" }
  return (
    <div style={{ position: "absolute", left: 0, top: 0, width: WIDTH, height: HEIGHT, overflow: "hidden", background: "#fff" }}>
      <Panel
        envelope={buildEnvelope(C1_ENV_X, C1_ENV_LOW, C1_ENV_GREY, C1_ENV_BLUE)}
        green={C1_GREEN}
        blue={C1_BLUE}
        red={C1_RED}
        labels={C1_LABELS}
        left={83}
        right={597}
        top={45}
        bottom={435.7}
        xDomain={[-9.3, 9.88]}
        yDomain={[-4.4, 94.4]}
        xTicks={[-5, 0, 5]}
        yTicks={[0, 25, 50, 75]}
        r={2}
        labelSize={7.2}
        xTickOffset={29}
      />
      <Panel
        envelope={buildEnvelope(C2_ENV_X, C2_ENV_LOW, C2_ENV_GREY, C2_ENV_BLUE)}
        grey={C2_GREY}
        green={C2_GREEN}
        blue={C2_BLUE}
        red={C2_RED}
        labels={C2_LABELS}
        left={644}
        right={1153}
        top={45}
        bottom={431.7}
        xDomain={[-5.63, 3.22]}
        yDomain={[-1.17, 24.87]}
        xTicks={[-4, -2, 0, 2]}
        yTicks={[0, 5, 10, 15, 20]}
        r={2}
        labelSize={7.2}
        xTickOffset={25}
      />
      <Panel
        envelope={buildEnvelope(C3_ENV_X, C3_ENV_LOW, C3_ENV_GREY, C3_ENV_BLUE)}
        green={C3_GREEN}
        blue={C3_BLUE}
        red={C3_RED}
        labels={C3_LABELS}
        left={1198.6}
        right={1710}
        top={58.3}
        bottom={432}
        xDomain={[-9.78, 9.55]}
        yDomain={[-10.3, 215.4]}
        xTicks={[-5, 0, 5]}
        yTicks={[0, 50, 100, 150, 200]}
        r={1.8}
        labelSize={6.8}
        xTickOffset={20}
      >
        <Legend
          layout="vertical"
          align="center"
          verticalAlign="middle"
          content={() => <LegendBox />}
          wrapperStyle={{ position: "absolute", left: 1713, top: 109, width: 245, height: 125 }}
        />
      </Panel>
      <svg width={WIDTH} height={HEIGHT} style={{ position: "absolute", left: 0, top: 0 }}>
        <text x={328.6} y={17.5} {...titleProps}>Cluster 1 vs Cluster 2</text>
        <text x={884} y={17.5} {...titleProps}>Cluster 1 vs Cluster 3</text>
        <text x={1456} y={21.5} {...titleProps}>Cluster 2 vs Cluster 3</text>
        <text transform="translate(20,276) rotate(-90)" fontFamily={serif} fontSize={29} fill="#111">
          -Log<tspan fontSize={20} dy={6}>10</tspan><tspan fontStyle="italic" dy={-6}>P</tspan>
        </text>
        <text x={891.7} y={513} textAnchor="middle" fontFamily={serif} fontSize={28} fill="#111">
          Log<tspan fontSize={19} dy={6}>2</tspan><tspan dy={-6}> fold change</tspan>
        </text>
      </svg>
    </div>
  )
}
